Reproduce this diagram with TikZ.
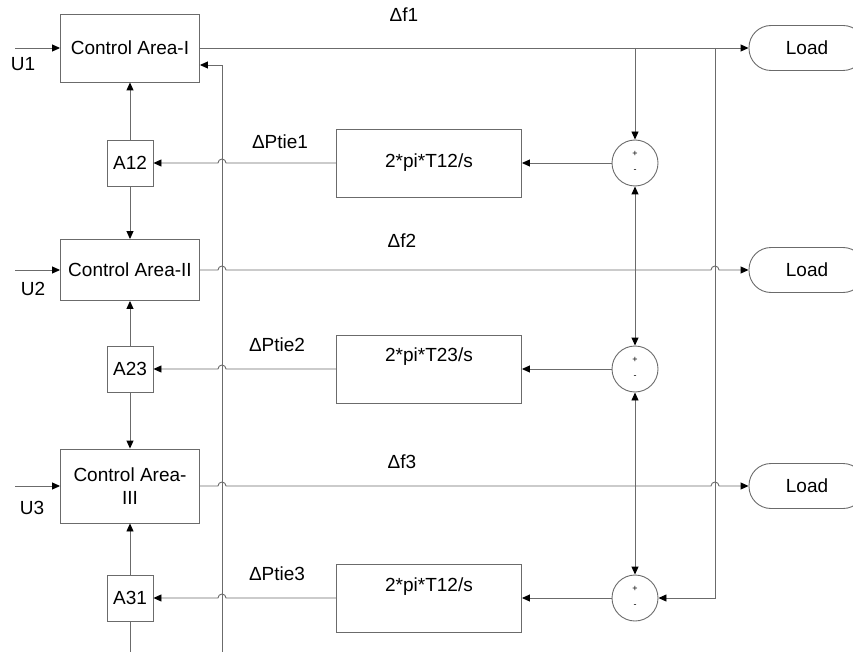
\documentclass[tikz,border=0pt]{standalone}
\usepackage{fontspec}
\setmainfont{Liberation Sans}
\usetikzlibrary{arrows.meta,calc}
\definecolor{lc}{gray}{0.42}
\newcommand\myfs{\fontsize{19}{23}\selectfont}
\newcommand\mysmall{\fontsize{9}{10}\selectfont}
\tikzset{
  ln/.style={draw=lc, line width=0.9pt},
  arr/.style={ln, -{Triangle[length=8pt,width=7pt,color=black]}},
  txt/.style={font=\myfs, inner sep=0pt, text=black},
  blk/.style={draw=lc, line width=0.9pt, rectangle, inner sep=2pt, font=\myfs, align=center},
  cabox/.style={blk, minimum width=139pt},
  abox/.style={blk, minimum width=46pt, minimum height=46pt},
  gainbox/.style={blk, minimum width=185pt, minimum height=68pt},
  sumnode/.style={draw=lc, line width=0.9pt, circle, minimum size=46pt, inner sep=0pt},
  loadbox/.style={draw=lc, line width=0.9pt, rectangle, rounded corners=22pt, minimum width=116pt, minimum height=45pt, font=\myfs},
  sgn/.style={font=\mysmall, inner sep=0pt}
}
\begin{document}
\begin{tikzpicture}[x=1pt,y=-1pt]
\useasboundingbox (0,0) rectangle (853,652);
% columns
\coordinate (vA) at (222,0);
\coordinate (vB) at (715,0);
\coordinate (sx) at (635,0);
% control areas
\node[cabox, minimum height=68pt] (ca1) at (130,48) {Control Area-I};
\node[cabox, minimum height=61pt] (ca2) at (130,270) {Control Area-II};
\node[cabox, minimum height=74pt] (ca3) at (130,486) {Control Area-\\III};
% A boxes
\node[abox] (a12) at (130,163) {A12};
\node[abox] (a23) at (130,369) {A23};
\node[abox] (a31) at (130,598) {A31};
% gain boxes
\node[gainbox] (g1) at (429,163) {2*pi*T12/s};
\node[gainbox] (g2) at (429,369) {};
\node[txt] at ($(g2.center)+(0,-12)$) {2*pi*T23/s};
\node[gainbox] (g3) at (429,598) {};
\node[txt] at ($(g3.center)+(0,-11)$) {2*pi*T12/s};
% sums
\node[sumnode] (s1) at (635,163) {};
\node[sumnode] (s2) at (635,369) {};
\node[sumnode] (s3) at (635,598) {};
\foreach \s in {s1,s2,s3}{
  \node[sgn] at ($(\s.center)+(0,-9)$) {+};
  \node[sgn] at ($(\s.center)+(0,8)$) {-};
}
% loads
\node[loadbox] (ld1) at (807,48) {Load};
\node[loadbox] (ld2) at (807,270) {Load};
\node[loadbox] (ld3) at (807,486) {Load};
% inputs
\coordinate (u1s) at (15,48);
\coordinate (u2s) at (15,270);
\coordinate (u3s) at (15,486);
\draw[arr] (u1s) -- (ca1.west);
\draw[arr] (u2s) -- (ca2.west);
\draw[arr] (u3s) -- (ca3.west);
\node[txt] at (23,64) {U1};
\node[txt] at (33,289) {U2};
\node[txt] at (32,508) {U3};
% A to CA
\draw[arr] (a12.north) -- (ca1.south);
\draw[arr] (a12.south) -- (ca2.north);
\draw[arr] (a23.north) -- (ca2.south);
\draw[arr] (a23.south) -- (ca3.north);
\draw[arr] (a31.north) -- (ca3.south);
\coordinate (a31bot) at (130,660);
\draw[ln] (a31.south) -- (a31bot);
% feedback vertical line
\coordinate (fbtop) at (222,65);
\coordinate (fbbot) at (222,660);
\draw[arr] (fbbot) -- (fbtop) -- (ca1.east |- fbtop);
% delta f1
\draw[arr] (ca1.east) -- (ld1.west);
\draw[arr] (sx |- ca1.east) -- (s1.north);
\draw[arr] (vB |- ca1.east) -- (vB |- s3.east) -- (s3.east);
% delta f2
\draw[arr] (ca2.east) -- ($(vA |- ca2.east)+(-4,0)$) arc[start angle=180,end angle=0,radius=4pt]
  -- ($(vB |- ca2.east)+(-4,0)$) arc[start angle=180,end angle=0,radius=4pt] -- (ld2.west);
\coordinate (j2) at (sx |- ca2.east);
\draw[arr] (j2) -- (s1.south);
\draw[arr] (j2) -- (s2.north);
% delta f3
\draw[arr] (ca3.east) -- ($(vA |- ca3.east)+(-4,0)$) arc[start angle=180,end angle=0,radius=4pt]
  -- ($(vB |- ca3.east)+(-4,0)$) arc[start angle=180,end angle=0,radius=4pt] -- (ld3.west);
\coordinate (j3) at (sx |- ca3.east);
\draw[arr] (j3) -- (s2.south);
\draw[arr] (j3) -- (s3.north);
% sum to gain
\draw[arr] (s1.west) -- (g1.east);
\draw[arr] (s2.west) -- (g2.east);
\draw[arr] (s3.west) -- (g3.east);
% gain to A
\draw[arr] (g1.west) -- ($(vA |- g1.west)+(4,0)$) arc[start angle=0,end angle=180,radius=4pt] -- (a12.east);
\draw[arr] (g2.west) -- ($(vA |- g2.west)+(4,0)$) arc[start angle=0,end angle=180,radius=4pt] -- (a23.east);
\draw[arr] (g3.west) -- ($(vA |- g3.west)+(4,0)$) arc[start angle=0,end angle=180,radius=4pt] -- (a31.east);
% labels
\node[txt] at (404,15) {Δf1};
\node[txt] at (402,241) {Δf2};
\node[txt] at (402,462) {Δf3};
\node[txt] at (280,142) {ΔPtie1};
\node[txt] at (277,345) {ΔPtie2};
\node[txt] at (277,574) {ΔPtie3};
\end{tikzpicture}
\end{document}
